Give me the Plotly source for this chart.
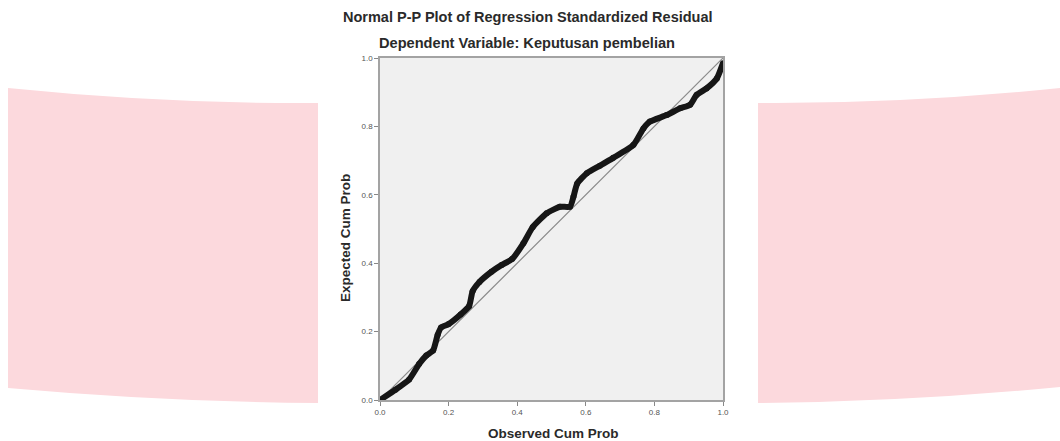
import plotly.graph_objects as go

# ---- data ----
observed_cum_prob = [0.0, 0.045, 0.085, 0.114, 0.135, 0.155, 0.168, 0.178, 0.2, 0.235,
                     0.26, 0.27, 0.29, 0.325, 0.355, 0.385, 0.418, 0.445, 0.486, 0.525,
                     0.554, 0.564, 0.575, 0.603, 0.641, 0.68, 0.739, 0.768, 0.787, 0.836,
                     0.875, 0.904, 0.923, 0.952, 0.982, 1.0]
expected_cum_prob = [0.0, 0.03, 0.06, 0.105, 0.13, 0.145, 0.19, 0.212, 0.222, 0.25,
                     0.275, 0.318, 0.345, 0.375, 0.395, 0.412, 0.458, 0.505, 0.546, 0.565,
                     0.565, 0.594, 0.633, 0.663, 0.685, 0.708, 0.746, 0.794, 0.814, 0.833,
                     0.853, 0.863, 0.892, 0.911, 0.94, 0.985]
reference_line = [0.0, 1.0]
tick_values = [0.0, 0.2, 0.4, 0.6, 0.8, 1.0]
tick_labels = ["0.0", "0.2", "0.4", "0.6", "0.8", "1.0"]

W, H = 1060, 441
L, R, T, B = 380, 723, 58, 400  # plot area in pixels


def px(x):
    return (x - L) / (R - L)


def py(y):
    return (B - y) / (B - T)


FONT = "Liberation Sans, Arial, sans-serif"

fig = go.Figure()

fig.add_trace(go.Scatter(
    x=reference_line, y=reference_line, mode="lines",
    line=dict(color="#8a8a8a", width=1.2), hoverinfo="skip", showlegend=False))

fig.add_trace(go.Scatter(
    x=observed_cum_prob, y=expected_cum_prob, mode="lines+markers",
    line=dict(color="#161616", width=6, shape="spline", smoothing=0.5),
    marker=dict(symbol="circle", size=6, color="#161616"),
    showlegend=False))


def band(x0, x1, ytop_out, ytop_in, ybot_in, ybot_out, xc):
    # outer edge at x0, inner (toward chart) at x1
    return (f"M {px(x0)},{py(ytop_out)} Q {px(xc)},{py(ytop_in + 1)} {px(x1)},{py(ytop_in)} "
            f"L {px(x1)},{py(ybot_in)} Q {px(xc)},{py(ybot_in - 1)} {px(x0)},{py(ybot_out)} Z")


pink = "#fcd9dd"
shapes = [
    dict(type="path", xref="paper", yref="paper", layer="below",
         path=band(8, 318, 88, 103, 403, 388, 165), fillcolor=pink, line=dict(width=0)),
    dict(type="path", xref="paper", yref="paper", layer="below",
         path=band(1060, 758, 88, 103, 403, 387, 905), fillcolor=pink, line=dict(width=0)),
]


def label(text, x, y, size, angle=0):
    return dict(text=text, x=px(x), y=py(y), xref="paper", yref="paper",
                xanchor="center", yanchor="middle", showarrow=False, textangle=angle,
                font=dict(family=FONT, size=size, color="#2a2a2a"))


annotations = [
    label("<b>Normal P-P Plot of Regression Standardized Residual</b>", 528, 17, 14.5),
    label("<b>Dependent Variable: Keputusan pembelian</b>", 527, 43, 14.6),
    label("<b>Observed Cum Prob</b>", 553, 433, 13.5),
    label("<b>Expected Cum Prob</b>", 345, 238, 13.5, angle=-90),
]

axis_common = dict(
    range=[0, 1], tickvals=tick_values, ticktext=tick_labels,
    showgrid=False, zeroline=False, showline=True, mirror=True,
    linecolor="#a3a3a3", linewidth=1.5, ticks="outside", ticklen=4,
    tickcolor="#888888", tickwidth=1,
    tickfont=dict(family=FONT, size=8, color="#555555"),
    fixedrange=True,
)

fig.update_layout(
    width=W, height=H,
    margin=dict(l=L, r=W - R, t=T, b=H - B, pad=0),
    paper_bgcolor="white", plot_bgcolor="#f0f0f0",
    xaxis=dict(**axis_common),
    yaxis=dict(**axis_common),
    shapes=shapes, annotations=annotations,
    showlegend=False,
)

fig.write_html("out.html", config={"displayModeBar": False},
               post_script="document.body.style.margin='0';")
